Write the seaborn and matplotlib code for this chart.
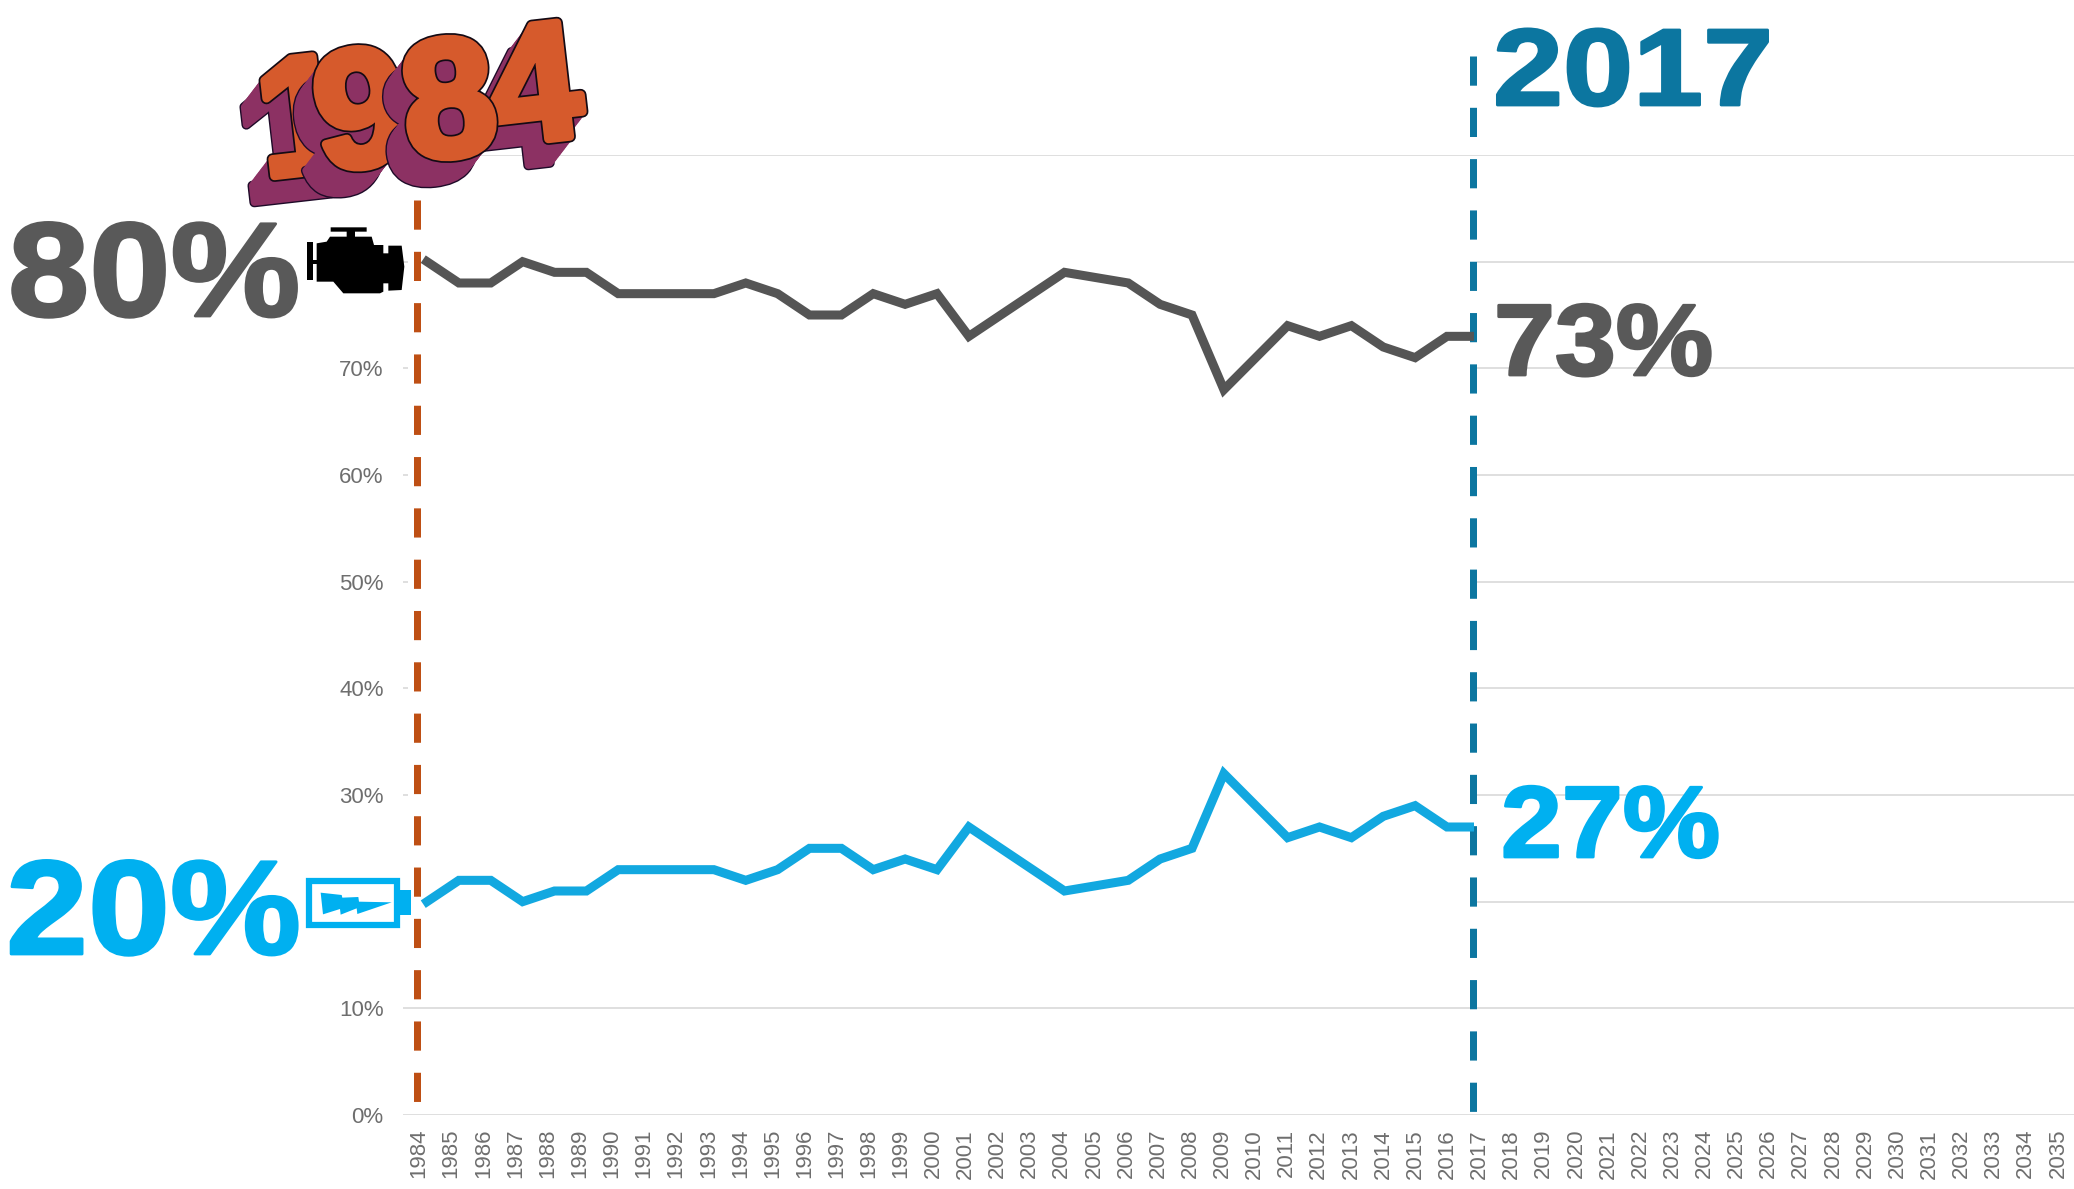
import matplotlib
matplotlib.use("Agg")
import matplotlib.pyplot as plt
import matplotlib.patheffects as pe
from matplotlib.patches import Polygon, Rectangle
from matplotlib.transforms import Affine2D
import seaborn as sns

axis_years = list(range(1984, 2036))
line_years = list(range(1984, 2018))
gas_share = [80, 78, 78, 80, 79, 79, 77, 77, 77, 77, 78, 77, 75, 75, 77, 76, 77,
             73, 75, 77, 79, 78.5, 78, 76, 75, 68, 71, 74, 73, 74, 72, 71, 73, 73]
electric_share = [20, 22, 22, 20, 21, 21, 23, 23, 23, 23, 22, 23, 25, 25, 23, 24, 23,
                  27, 25, 23, 21, 21.5, 22, 24, 25, 32, 29, 26, 27, 26, 28, 29, 27, 27]
pct_ticks = [0, 10, 20, 30, 40, 50, 60, 70, 80, 90]

GRAY = "#595959"
BLUE = "#00B0F0"
LINE_BLUE = "#12A8E0"
TEAL = "#0C76A0"
RUST = "#BE4F14"
W, H = 2074, 1189


# the big labels are wider than Liberation Sans Bold, so stretch them sideways
class Wide(pe.AbstractPathEffect):
    def __init__(self, x0, sx, lw=2.0):
        super().__init__()
        self.x0, self.sx, self.lw = x0, sx, lw

    def draw_path(self, renderer, gc, tpath, affine, rgbFace):
        gc0 = renderer.new_gc()
        gc0.copy_properties(gc)
        gc0.set_linewidth(self.lw)
        gc0.set_foreground(rgbFace, isRGBA=True)
        tr = affine + Affine2D().translate(-self.x0, 0).scale(self.sx, 1).translate(self.x0, 0)
        renderer.draw_path(gc0, tpath, tr, rgbFace)
        gc0.restore()


def px_rect(x0, y0, x1, y1):
    return [x0 / W, 1 - y1 / H, (x1 - x0) / W, (y1 - y0) / H]


sns.set_style("white")
plt.rcParams["font.family"] = ["Liberation Sans", "DejaVu Sans"]

fig = plt.figure(figsize=(W / 100, H / 100), dpi=100)

# base chart with the gridlines and axis labels
ax = fig.add_axes(px_rect(403, 155, 2074, 1115), zorder=1)
ax.set_xlim(1983.5, 2035.5)
ax.set_ylim(0, 90)
ax.set_xticks(axis_years)
ax.set_xticklabels([str(y) for y in axis_years], rotation=90)
ax.set_yticks(pct_ticks)
ax.set_yticklabels([f"{p}%" for p in pct_ticks])
ax.tick_params(axis="x", length=0, pad=10, labelsize=16, labelcolor="#6E6E6E")
ax.tick_params(axis="y", length=0, pad=14, labelsize=16, labelcolor="#6E6E6E")
ax.grid(axis="y", color="#D9D9D9", linewidth=1.2)
ax.set_axisbelow(True)
sns.despine(ax=ax, left=True, top=True, right=True, bottom=True)

# pixel layer for annotations, the logo and the icons
px = fig.add_axes([0, 0, 1, 1], zorder=2)
px.set_xlim(0, W)
px.set_ylim(H, 0)
px.axis("off")
px.patch.set_alpha(0)

px.add_patch(Rectangle((408, 200), 1069, 800, facecolor="white", edgecolor="none", zorder=1))
px.plot([417, 417], [200, 1102], color=RUST, linewidth=5.04,
        linestyle=(0, (4.17, 3.16)), dash_capstyle="butt", zorder=2)
px.plot([1473, 1473], [56, 1112], color=TEAL, linewidth=5.04,
        linestyle=(0, (4.17, 3.16)), dash_capstyle="butt", zorder=2)

big_labels = [
    ("80%", 8, 316, 96.5, GRAY, 1.09),
    ("20%", 6, 954, 96.5, BLUE, 1.10),
    ("73%", 1494, 375, 73, GRAY, 1.08),
    ("27%", 1501, 857, 73, BLUE, 1.08),
    ("2017", 1493, 105, 78.5, TEAL, 1.155),
]
for s, x, y, size, col, sx in big_labels:
    px.text(x, y, s, fontsize=size, fontweight="bold", color=col, ha="left", va="baseline",
            path_effects=[Wide(x, sx)], zorder=5)

# 1984 logo, each digit pushed out towards the lower left, the 8 sits over the 4
LOGO_FRONT = "#D65A2C"
LOGO_SIDE = "#8C3163"
extrude = [pe.Stroke(linewidth=5, foreground=LOGO_SIDE, offset=(-14.5 * k / 16, -19 * k / 16))
           for k in range(16, 0, -1)]
back = [pe.Stroke(linewidth=7, foreground="#1E0A28", offset=(-14.5, -19))]
front = [pe.Stroke(linewidth=8.5, foreground="#140A14"), pe.Stroke(linewidth=6, foreground=LOGO_FRONT), pe.Normal()]
for digit, x, y in [("1", 310, 172), ("9", 367, 165), ("4", 540, 140), ("8", 455, 155)]:
    px.text(x, y, digit, fontsize=120, fontweight="bold", color=LOGO_FRONT, ha="center", va="baseline",
            rotation=6.5, rotation_mode="anchor", path_effects=back + extrude + front, zorder=6)

# engine icon
engine = [(950, 160), (980, 155), (990, 140), (1040, 140), (1040, 125), (992, 125), (992, 112),
          (1100, 112), (1100, 125), (1065, 125), (1065, 140), (1115, 140), (1122, 165), (1150, 165),
          (1150, 190), (1165, 190), (1165, 167), (1205, 167), (1213, 230), (1205, 300), (1165, 302),
          (1165, 280), (1150, 280), (1150, 305), (1140, 310), (1030, 310), (1000, 275), (950, 275)]
px.add_patch(Polygon([(a / 3, 190 + b / 3) for a, b in engine], facecolor="black", edgecolor="none", zorder=6))
px.add_patch(Rectangle((920 / 3, 190 + 155 / 3), 6, 38, facecolor="black", edgecolor="none", zorder=6))
px.add_patch(Rectangle((935 / 3, 190 + 210 / 3), 6, 4, facecolor="black", edgecolor="none", zorder=6))

# battery icon
px.add_patch(Rectangle((309, 881), 88, 44, facecolor="white", edgecolor=BLUE, linewidth=4.5, zorder=6))
px.add_patch(Rectangle((399, 890), 12, 25, facecolor=BLUE, edgecolor="none", zorder=6))
bolt = [(962, 218), (1025, 225), (1027, 233), (1075, 231), (1077, 245), (1175, 247), (1072, 282),
        (1070, 265), (1022, 284), (1020, 267), (969, 283)]
px.add_patch(Polygon([(a / 3, 820 + b / 3) for a, b in bolt], facecolor=BLUE, edgecolor="none", zorder=7))

# series sit on their own clear axes, the years run a bit narrower than the labels
line_ax = fig.add_axes(px_rect(408, 155, 1473.5, 1115), zorder=3)
line_ax.patch.set_alpha(0)
sns.lineplot(x=line_years, y=gas_share, color="#555555", linewidth=6.5, errorbar=None, ax=line_ax,
             solid_joinstyle="miter", solid_capstyle="projecting")
sns.lineplot(x=line_years, y=electric_share, color=LINE_BLUE, linewidth=6.5, errorbar=None, ax=line_ax,
             solid_joinstyle="miter", solid_capstyle="projecting")
line_ax.set_ylim(0, 90)
line_ax.set_xlim(1984 - 19 / 31.875, 1984 + 1046.5 / 31.875)
line_ax.axis("off")

fig.savefig("out.png", dpi=100)
